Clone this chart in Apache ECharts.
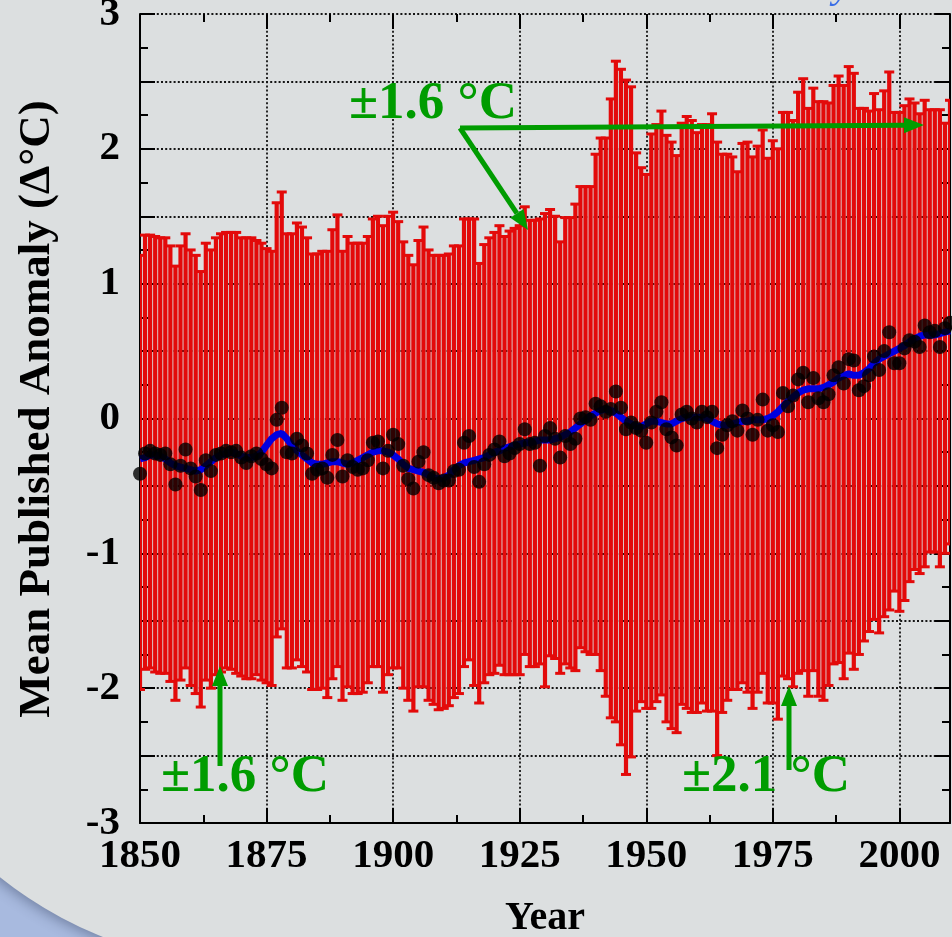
<!DOCTYPE html>
<html>
<head>
<meta charset="utf-8">
<script src="https://cdn.jsdelivr.net/npm/echarts@6/dist/echarts.min.js"></script>
<style>
  html, body { margin: 0; padding: 0; }
  #chart { width: 952px; height: 937px; }
</style>
</head>
<body>
<div id="chart"></div>
<script>
const FIRST_YEAR = 1850;

// annual mean published anomaly (black dots)
const meanAnomaly = [
  -0.41, -0.26, -0.24, -0.26, -0.27, -0.26, -0.34, -0.49, -0.35, -0.23,
  -0.37, -0.43, -0.53, -0.31, -0.39, -0.27, -0.26, -0.24, -0.25, -0.24,
  -0.29, -0.33, -0.28, -0.26, -0.30, -0.34, -0.37, -0.01, 0.08, -0.25,
  -0.26, -0.15, -0.20, -0.26, -0.41, -0.38, -0.37, -0.44, -0.27, -0.16,
  -0.43, -0.31, -0.36, -0.38, -0.37, -0.31, -0.18, -0.17, -0.37, -0.24,
  -0.12, -0.19, -0.35, -0.45, -0.52, -0.32, -0.25, -0.42, -0.44, -0.48,
  -0.46, -0.46, -0.39, -0.38, -0.18, -0.13, -0.36, -0.47, -0.34, -0.27,
  -0.23, -0.17, -0.28, -0.26, -0.22, -0.19, -0.08, -0.19, -0.18, -0.35,
  -0.13, -0.07, -0.15, -0.29, -0.13, -0.19, -0.15, 0.00, 0.01, -0.01,
  0.11, 0.09, 0.05, 0.07, 0.20, 0.08, -0.08, -0.03, -0.07, -0.09,
  -0.18, -0.03, 0.05, 0.12, -0.08, -0.14, -0.20, 0.03, 0.05, 0.00,
  -0.03, 0.05, 0.01, 0.05, -0.22, -0.12, -0.05, -0.02, -0.09, 0.06,
  0.00, -0.12, -0.01, 0.14, -0.09, -0.05, -0.10, 0.19, 0.09, 0.17,
  0.29, 0.34, 0.12, 0.30, 0.15, 0.12, 0.18, 0.32, 0.38, 0.26,
  0.44, 0.43, 0.21, 0.24, 0.32, 0.46, 0.36, 0.50, 0.64, 0.41,
  0.41, 0.52, 0.58, 0.57, 0.53, 0.69, 0.64, 0.65, 0.53, 0.67,
  0.71
];

// smoothed curve (blue line)
const smoothAnomaly = [
  -0.30, -0.29, -0.27, -0.27, -0.28, -0.30, -0.33, -0.35, -0.36, -0.37,
  -0.38, -0.39, -0.38, -0.35, -0.32, -0.29, -0.27, -0.26, -0.25, -0.26,
  -0.28, -0.29, -0.29, -0.28, -0.25, -0.20, -0.15, -0.12, -0.11, -0.15,
  -0.20, -0.24, -0.27, -0.30, -0.33, -0.34, -0.34, -0.33, -0.32, -0.32,
  -0.33, -0.34, -0.33, -0.31, -0.29, -0.27, -0.25, -0.24, -0.24, -0.25,
  -0.27, -0.30, -0.34, -0.37, -0.38, -0.39, -0.40, -0.42, -0.44, -0.45,
  -0.44, -0.42, -0.38, -0.35, -0.33, -0.32, -0.31, -0.30, -0.29, -0.27,
  -0.25, -0.24, -0.22, -0.21, -0.20, -0.19, -0.18, -0.18, -0.17, -0.16,
  -0.16, -0.16, -0.15, -0.14, -0.12, -0.10, -0.07, -0.04, -0.01, 0.02,
  0.04, 0.06, 0.07, 0.06, 0.04, 0.01, -0.02, -0.04, -0.06, -0.06,
  -0.04, -0.02, -0.02, -0.03, -0.04, -0.04, -0.02, 0.00, 0.01, 0.01,
  0.01, 0.01, 0.00, -0.02, -0.04, -0.05, -0.05, -0.04, -0.03, -0.02,
  -0.02, -0.01, -0.01, -0.01, 0.00, 0.02, 0.05, 0.09, 0.13, 0.16,
  0.19, 0.21, 0.22, 0.22, 0.22, 0.23, 0.25, 0.27, 0.30, 0.32,
  0.33, 0.32, 0.32, 0.34, 0.37, 0.41, 0.44, 0.46, 0.48, 0.50,
  0.52, 0.54, 0.57, 0.59, 0.61, 0.62, 0.62, 0.62, 0.63, 0.64,
  0.65
];

// top of each error bar
const upperBound = [
  1.21, 1.36, 1.36, 1.35, 1.34, 1.34, 1.28, 1.13, 1.28, 1.37,
  1.25, 1.21, 1.09, 1.30, 1.25, 1.34, 1.37, 1.38, 1.38, 1.38,
  1.34, 1.34, 1.34, 1.32, 1.30, 1.26, 1.24, 1.60, 1.68, 1.37,
  1.37, 1.45, 1.42, 1.34, 1.22, 1.22, 1.24, 1.24, 1.40, 1.51,
  1.24, 1.35, 1.30, 1.30, 1.30, 1.35, 1.48, 1.50, 1.43, 1.50,
  1.53, 1.46, 1.31, 1.21, 1.14, 1.32, 1.42, 1.25, 1.21, 1.21,
  1.21, 1.22, 1.28, 1.28, 1.48, 1.48, 1.48, 1.15, 1.29, 1.34,
  1.38, 1.43, 1.35, 1.39, 1.41, 1.43, 1.57, 1.47, 1.47, 1.48,
  1.52, 1.55, 1.50, 1.31, 1.49, 1.49, 1.59, 1.72, 1.72, 1.72,
  1.96, 2.08, 2.08, 2.37, 2.65, 2.59, 2.51, 2.46, 1.97, 1.86,
  1.81, 2.11, 2.18, 2.28, 2.10, 2.05, 1.95, 2.19, 2.24, 2.21,
  2.12, 2.18, 2.18, 2.26, 2.05, 1.96, 1.96, 1.94, 1.83, 2.04,
  2.05, 1.94, 2.02, 2.14, 1.93, 2.06, 2.00, 2.27, 2.27, 2.21,
  2.42, 2.52, 2.30, 2.45, 2.35, 2.35, 2.34, 2.47, 2.54, 2.47,
  2.61, 2.56, 2.30, 2.30, 2.28, 2.41, 2.29, 2.43, 2.57, 2.27,
  2.27, 2.32, 2.37, 2.34, 2.26, 2.36, 2.29, 2.29, 2.29, 2.19,
  2.36
];

// bottom of each error bar
const lowerBound = [
  -2.01, -1.86, -1.85, -1.88, -1.89, -1.89, -1.95, -2.09, -1.94, -1.85,
  -1.98, -2.04, -2.14, -1.94, -2.00, -1.90, -1.88, -1.85, -1.86, -1.89,
  -1.91, -1.93, -1.93, -1.90, -1.94, -1.96, -1.98, -1.62, -1.56, -1.85,
  -1.85, -1.79, -1.84, -1.88, -2.01, -2.01, -2.00, -2.07, -1.93, -1.84,
  -2.09, -1.99, -2.04, -2.04, -2.03, -1.96, -1.84, -1.84, -2.03, -1.90,
  -1.85, -1.85, -2.00, -2.09, -2.17, -1.99, -1.99, -2.09, -2.12, -2.16,
  -2.15, -2.13, -2.07, -2.04, -1.84, -1.79, -1.98, -2.11, -1.96, -1.90,
  -1.89, -1.83, -1.90, -1.90, -1.90, -1.90, -1.75, -1.84, -1.84, -1.82,
  -1.99, -1.76, -1.78, -1.89, -1.82, -1.85, -1.87, -1.70, -1.73, -1.75,
  -1.75, -1.87, -2.06, -2.22, -2.25, -2.42, -2.64, -2.51, -2.17, -2.10,
  -2.15, -2.15, -2.10, -2.05, -2.25, -2.30, -2.33, -2.12, -2.15, -2.18,
  -2.18, -2.11, -2.17, -2.17, -2.50, -2.18, -2.09, -2.01, -2.01, -1.96,
  -2.03, -2.15, -2.03, -1.89, -2.11, -2.11, -2.23, -1.91, -1.93, -1.99,
  -1.89, -1.87, -2.06, -1.87, -2.06, -2.09, -1.98, -1.82, -1.81, -1.93,
  -1.74, -1.86, -1.75, -1.65, -1.58, -1.49, -1.59, -1.47, -1.42, -1.28,
  -1.43, -1.35, -1.21, -1.12, -1.15, -1.10, -0.99, -0.99, -1.10, -1.00,
  -0.93
];

const xLabelYears = [1850, 1875, 1900, 1925, 1950, 1975, 2000];
const yLabelValues = [-3, -2, -1, 0, 1, 2, 3];

const years = meanAnomaly.map((_, i) => FIRST_YEAR + i);

const RED = '#e30a0a';
const GREEN = '#009c00';
const FONT = '"Liberation Serif", "Times New Roman", serif';

const chart = echarts.init(document.getElementById('chart'));

const labelFont = {
  color: '#000',
  fontFamily: FONT,
  fontWeight: 'bold',
  fontSize: 41,
};
const blackLine = { color: '#000', width: 2 };
const dotted = { color: '#151515', width: 1.8, type: [2, 2.2] };

function xAxisDef(position, interval, tickLen, main) {
  return {
    type: 'value',
    position: position,
    min: 1850,
    max: 2010,
    interval: interval,
    axisLine: { show: main, onZero: false, lineStyle: blackLine },
    axisTick: { inside: true, length: tickLen, lineStyle: blackLine },
    axisLabel: {
      show: main && position === 'bottom',
      margin: 13,
      formatter: (v) => (xLabelYears.indexOf(v) >= 0 ? String(v) : ''),
      ...labelFont,
    },
    splitLine: { show: main && position === 'bottom', lineStyle: dotted },
    name: main && position === 'bottom' ? 'Year' : '',
    nameLocation: 'middle',
    nameGap: 76,
    nameTextStyle: { ...labelFont, fontSize: 40 },
  };
}

function yAxisDef(position, main) {
  return {
    type: 'value',
    position: position,
    min: -3,
    max: 3,
    interval: 0.5,
    axisLine: { show: true, onZero: false, lineStyle: blackLine },
    axisTick: { inside: true, length: 15, lineStyle: blackLine },
    minorTick: { show: true, splitNumber: 2, length: 8, lineStyle: blackLine },
    axisLabel: {
      show: main,
      margin: 20,
      formatter: (v) => (yLabelValues.indexOf(v) >= 0 ? String(v) : ''),
      ...labelFont,
    },
    splitLine: { show: main, lineStyle: dotted },
  };
}

// arrow = shaft line + triangular head
function arrow(x1, y1, x2, y2) {
  const dx = x2 - x1, dy = y2 - y1;
  const len = Math.hypot(dx, dy);
  const ux = dx / len, uy = dy / len;
  const hl = 20, hw = 8;
  const bx = x2 - ux * hl, by = y2 - uy * hl;
  return [
    { type: 'line', z: 100, shape: { x1: x1, y1: y1, x2: bx, y2: by },
      style: { stroke: GREEN, lineWidth: 5 } },
    { type: 'polygon', z: 100,
      shape: { points: [[x2, y2], [bx - uy * hw, by + ux * hw], [bx + uy * hw, by - ux * hw]] },
      style: { fill: GREEN } },
  ];
}

function greenText(text, x, y) {
  return {
    type: 'text', z: 99, x: x, y: y,
    style: {
      text: text, fill: GREEN,
      font: 'bold 53px ' + FONT,
      textAlign: 'left', textVerticalAlign: 'middle',
      align: 'left', verticalAlign: 'middle',
    },
  };
}

const graphics = [
  // slide backdrop: blue corner under a grey panel with a rounded bottom-left corner
  { type: 'rect', z: -20, silent: true, shape: { x: 0, y: 0, width: 952, height: 937 },
    style: { fill: '#a8badf' } },
  { type: 'rect', z: -10, silent: true,
    shape: { x: -150, y: -300, width: 1300, height: 1265, r: [0, 0, 0, 400] },
    style: { fill: '#dcdfe0', shadowBlur: 14, shadowColor: 'rgba(40,50,80,0.45)',
      shadowOffsetX: -2, shadowOffsetY: 2 } },
  // clipped remnant of the slide title
  { type: 'text', z: 99, x: 842, y: -14,
    style: { text: 'y', fill: '#3a6ee6', font: 'italic 40px ' + FONT,
      textAlign: 'center', textVerticalAlign: 'middle', align: 'center', verticalAlign: 'middle' } },
  // y axis title
  { type: 'text', z: 99, x: 37, y: 409, rotation: Math.PI / 2,
    style: { text: 'Mean Published Anomaly (\u0394\u00b0C)', fill: '#000',
      font: 'bold 45px ' + FONT,
      textAlign: 'center', textVerticalAlign: 'middle', align: 'center', verticalAlign: 'middle' } },
  greenText('\u00b11.6 \u00b0C', 349, 104),
  greenText('\u00b11.6 \u00b0C', 161, 777),
  greenText('\u00b12.1 \u00b0C', 682, 777),
  ...arrow(460, 128, 528, 230),
  ...arrow(460, 128, 924, 125),
  ...arrow(220, 766, 220, 666),
  ...arrow(789, 770, 789, 686),
];

const option = {
  animation: false,
  backgroundColor: '#dcdfe0',
  grid: {
    left: 140, top: 14, width: 810, height: 809,
    containLabel: false,
    outerBoundsMode: 'none',
  },
  xAxis: [
    xAxisDef('bottom', 25, 15, true),
    xAxisDef('bottom', 12.5, 8, false),
    xAxisDef('top', 25, 15, false),
    xAxisDef('top', 12.5, 8, false),
  ],
  yAxis: [yAxisDef('left', true), yAxisDef('right', false)],
  graphic: { elements: graphics },
  series: [
    {
      name: 'range',
      type: 'custom',
      xAxisIndex: 0,
      yAxisIndex: 0,
      clip: true,
      z: 2,
      data: years.map((y, i) => [y, lowerBound[i], upperBound[i]]),
      renderItem: function (params, api) {
        const top = api.coord([api.value(0), api.value(2)]);
        const bot = api.coord([api.value(0), api.value(1)]);
        const barW = 4.2, capW = 10;
        return {
          type: 'group',
          children: [
            { type: 'rect',
              shape: { x: top[0] - barW / 2, y: top[1], width: barW, height: bot[1] - top[1] },
              style: { fill: RED } },
            { type: 'line',
              shape: { x1: top[0] - capW / 2, y1: top[1], x2: top[0] + capW / 2, y2: top[1] },
              style: { stroke: RED, lineWidth: 3 } },
            { type: 'line',
              shape: { x1: bot[0] - capW / 2, y1: bot[1], x2: bot[0] + capW / 2, y2: bot[1] },
              style: { stroke: RED, lineWidth: 3 } },
          ],
        };
      },
    },
    {
      name: 'smooth',
      type: 'line',
      xAxisIndex: 0,
      yAxisIndex: 0,
      z: 3,
      showSymbol: false,
      symbol: 'none',
      data: years.map((y, i) => [y, smoothAnomaly[i]]),
      lineStyle: { color: '#0000e0', width: 7 },
    },
    {
      name: 'mean',
      type: 'scatter',
      xAxisIndex: 0,
      yAxisIndex: 0,
      z: 4,
      symbolSize: 14,
      data: years.map((y, i) => [y, meanAnomaly[i]]),
      itemStyle: { color: '#000' },
    },
  ],
};

chart.setOption(option);
</script>
</body>
</html>
